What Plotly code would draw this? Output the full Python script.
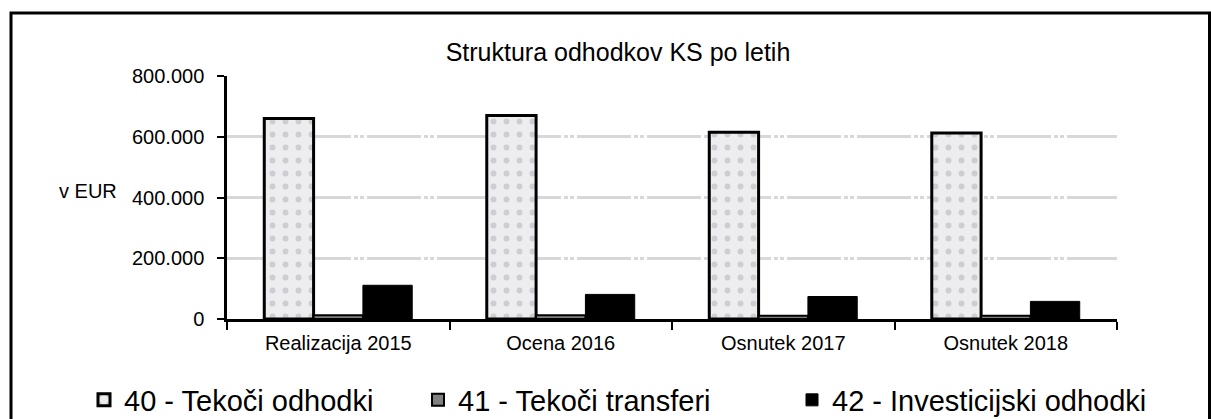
import plotly.graph_objects as go

# Kategorije (leta) in vrednosti po kontih
kategorije = ["Realizacija 2015", "Ocena 2016", "Osnutek 2017", "Osnutek 2018"]
tekoci_odhodki = [660000, 670000, 615000, 612000]
tekoci_transferi = [12000, 12000, 11000, 11000]
investicijski_odhodki = [111000, 81000, 74000, 58000]

imena = ["40 - Tekoči odhodki", "41 - Tekoči transferi", "42 - Investicijski odhodki"]

W, H = 1211, 419
L, R, T, B = 227, 94, 76, 100
pw = W - L - R
ph = H - T - B

font_fam = "Liberation Sans, Arial, sans-serif"

fig = go.Figure()
fig.add_trace(go.Bar(
    x=kategorije, y=tekoci_odhodki, name=imena[0], legend="legend", showlegend=True,
    marker=dict(color="#ebebee", line=dict(color="black", width=3),
                pattern=dict(shape=".", fgcolor="#cdcdd2", bgcolor="#ededf0",
                             size=13, solidity=0.16, fillmode="replace")),
))
fig.add_trace(go.Bar(
    x=kategorije, y=tekoci_transferi, name=imena[1], legend="legend2", showlegend=True,
    marker=dict(color="#808080", line=dict(color="black", width=2)),
))
fig.add_trace(go.Bar(
    x=kategorije, y=investicijski_odhodki, name=imena[2], legend="legend3", showlegend=True,
    marker=dict(color="black", line=dict(color="black", width=1)),
))

def px_x(px):
    return (px - L) / pw

def px_y(py):
    return (H - B - py) / ph

leg_common = dict(orientation="h", yanchor="middle", xanchor="left",
                  font=dict(family=font_fam, size=29, color="black"),
                  bgcolor="rgba(0,0,0,0)", itemwidth=30)

fig.update_layout(
    width=W, height=H,
    margin=dict(l=L, r=R, t=T, b=B, autoexpand=False),
    paper_bgcolor="white", plot_bgcolor="white",
    barmode="group", bargap=0.335, bargroupgap=0,
    separators=",.",
    showlegend=True,
    title=dict(text="Struktura odhodkov KS po letih", x=618 / W, xanchor="center",
               xref="container", y=1 - 52 / H, yanchor="middle", yref="container",
               font=dict(family=font_fam, size=25, color="black")),
    legend=dict(x=px_x(84), y=px_y(400), **leg_common),
    legend2=dict(x=px_x(418), y=px_y(400), **leg_common),
    legend3=dict(x=px_x(792), y=px_y(400), **leg_common),
    xaxis=dict(showline=True, linecolor="black", linewidth=3,
               ticks="outside", tickson="boundaries", ticklen=8, tickwidth=2,
               tickcolor="black", showgrid=False, zeroline=False,
               tickfont=dict(family=font_fam, size=20, color="black"),
               ticklabelstandoff=4),
    yaxis=dict(range=[0, 800000], tickvals=[0, 200000, 400000, 600000, 800000],
               tickformat=",d", showline=True, linecolor="black", linewidth=2.5,
               ticks="outside", ticklen=7, tickwidth=2, tickcolor="black",
               showgrid=True, gridcolor="#d8d8d8", gridwidth=2.5,
               griddash="54px,3px,4px,2px,4px,3px", zeroline=False,
               tickfont=dict(family=font_fam, size=20, color="black"),
               ticklabelstandoff=9),
)

# "v EUR" ob navpični osi
fig.add_annotation(text="v EUR", xref="paper", yref="paper",
                   x=px_x(119), y=px_y(190.5), xanchor="right", yanchor="middle",
                   showarrow=False, font=dict(family=font_fam, size=20, color="black"))

# Okvir grafikona
fig.add_shape(type="rect", xref="paper", yref="paper",
              x0=px_x(11), x1=px_x(1209.5), y0=px_y(440), y1=px_y(13),
              line=dict(color="black", width=3), fillcolor="rgba(0,0,0,0)",
              layer="below")

fig.write_html("out.html")
